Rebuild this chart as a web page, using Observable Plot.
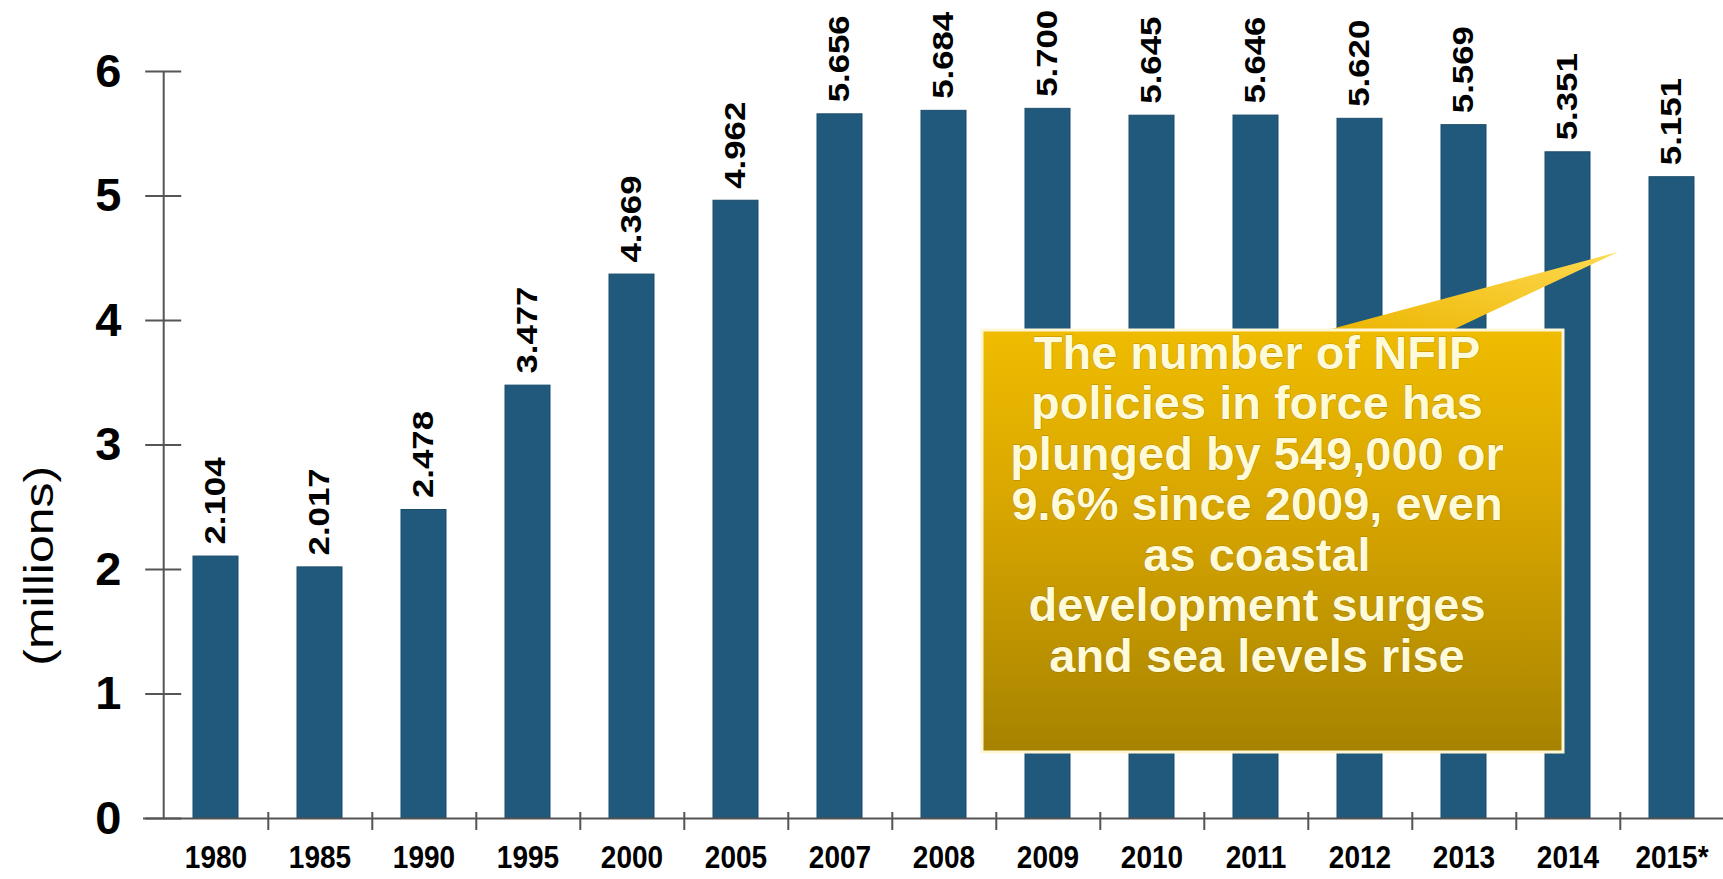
<!DOCTYPE html>
<html>
<head>
<meta charset="utf-8">
<script src="https://cdn.jsdelivr.net/npm/d3@7"></script>
<script src="https://cdn.jsdelivr.net/npm/@observablehq/plot@0.6"></script>
<style>
  html, body { margin: 0; padding: 0; background: #ffffff; }
  #chart { width: 1723px; height: 879px; overflow: hidden; }
</style>
</head>
<body>
<div id="chart"></div>
<script>
// ---- data ----
const years = ["1980", "1985", "1990", "1995", "2000", "2005", "2007", "2008", "2009", "2010", "2011", "2012", "2013", "2014", "2015*"];
const policies = [2.104, 2.017, 2.478, 3.477, 4.369, 4.962, 5.656, 5.684, 5.700, 5.645, 5.646, 5.620, 5.569, 5.351, 5.151];
const yTicks = [0, 1, 2, 3, 4, 5, 6];
const yTitle = "(millions)";
const calloutLines = [
  "The number of NFIP",
  "policies in force has",
  "plunged by 549,000 or",
  "9.6% since 2009, even",
  "as coastal",
  "development surges",
  "and sea levels rise"
];

const data = years.map((year, i) => ({year, value: policies[i]}));
const fmt = d3.format(".3f");
const FONT = "'Liberation Sans', Arial, Helvetica, sans-serif";
const AXIS = "#555555";
const BAR = "#20597c";

// callout drawn as a render function (annotation)
function callout(index, scales, values, dims) {
  const g = d3.create("svg:g");
  const defs = g.append("defs");
  const lg = defs.append("linearGradient").attr("id", "boxGrad").attr("x1", 0).attr("y1", 0).attr("x2", 0).attr("y2", 1);
  lg.append("stop").attr("offset", "0%").attr("stop-color", "#efbc00");
  lg.append("stop").attr("offset", "45%").attr("stop-color", "#d6a400");
  lg.append("stop").attr("offset", "100%").attr("stop-color", "#a68300");
  const pg = defs.append("linearGradient").attr("id", "ptrGrad").attr("x1", 0).attr("y1", 1).attr("x2", 1).attr("y2", 0);
  pg.append("stop").attr("offset", "0%").attr("stop-color", "#ebb400");
  pg.append("stop").attr("offset", "100%").attr("stop-color", "#ffda50");

  const bx = 982, by = 330, bw = 581, bh = 422;
  g.append("path")
    .attr("d", `M1320,${by + 2} L1618,252 L1448,${by + 2} Z`)
    .attr("fill", "url(#ptrGrad)");
  g.append("rect")
    .attr("x", bx).attr("y", by).attr("width", bw).attr("height", bh)
    .attr("fill", "url(#boxGrad)")
    .attr("stroke", "#fff6d8").attr("stroke-width", 3);
  const t = g.append("text")
    .attr("text-anchor", "middle")
    .attr("font-family", FONT)
    .attr("font-weight", "bold")
    .attr("font-size", 47)
    .attr("fill", "#fffad8")
    .attr("stroke", "rgba(90,60,0,0.35)")
    .attr("stroke-width", 1)
    .attr("paint-order", "stroke");
  calloutLines.forEach((line, i) => {
    t.append("tspan")
      .attr("x", 1257)
      .attr("y", 352 + i * 50.5)
      .attr("dy", "0.36em")
      .text(line);
  });
  return g.node();
}

const plot = Plot.plot({
  width: 1723,
  height: 879,
  marginLeft: 159,
  marginRight: 0,
  marginTop: 71,
  marginBottom: 61,
  style: {fontFamily: FONT, background: "#ffffff", color: "#000000", overflow: "visible"},
  x: {type: "band", domain: years, range: [159, 1728.6], paddingInner: 0.57, paddingOuter: 0.285, axis: null},
  y: {domain: [0, 6], axis: null},
  marks: [
    Plot.barY(data, {x: "year", y: "value", fill: BAR, stroke: "#1b4d6b", strokeWidth: 1}),
    // x axis baseline
    Plot.ruleY([0], {stroke: AXIS, strokeWidth: 2, insetLeft: -16}),
    // y axis line
    Plot.ruleX([years[0]], {x: d => d, dx: -52.3, y1: 0, y2: 6, stroke: AXIS, strokeWidth: 2}),
    // x ticks between categories
    Plot.ruleX(years, {x: d => d, dx: 52.3, y1: 0, y2: 0, insetTop: -6, insetBottom: -12, stroke: AXIS, strokeWidth: 2}),
    // y ticks crossing the axis
    Plot.tickY(yTicks, {y: d => d, x: () => years[0], dx: -47.8, insetRight: 9, stroke: AXIS, strokeWidth: 2}),
    // y axis labels
    Plot.axisY({ticks: yTicks, tickSize: 0, tickPadding: 38, tickFormat: d => String(d), fontSize: 47,
      fontWeight: "bold", label: null, color: "#000"}),
    // x axis labels
    Plot.axisX({tickSize: 0, tickPadding: 27, fontSize: 28, fontWeight: "bold", label: null, color: "#000"}),
    // value labels
    Plot.text(data, {x: "year", y: "value", text: d => fmt(d.value), rotate: -90, textAnchor: "start",
      lineAnchor: "middle", dy: -12, fontSize: 29, fontWeight: "bold", fill: "#000"}),
    // y title
    Plot.text([yTitle], {frameAnchor: "left", y: () => 2.03, dx: -119, rotate: -90, textAnchor: "middle",
      fontSize: 40, fill: "#000"}),
    callout
  ]
});

// stretch rotated texts along their baseline to mimic the reference's proportions
plot.querySelectorAll("text").forEach(el => {
  const tr = el.getAttribute("transform") || "";
  if (tr.includes("rotate(-90)")) {
    const s = el.textContent === yTitle ? 1.25 : 1.2;
    el.setAttribute("transform", tr + ` scale(${s},1)`);
  } else if (years.includes(el.textContent)) {
    // x tick labels are taller in the reference
    el.setAttribute("transform", (tr ? tr + " " : "") + "scale(1,1.15)");
  }
});

document.getElementById("chart").appendChild(plot);
</script>
</body>
</html>
